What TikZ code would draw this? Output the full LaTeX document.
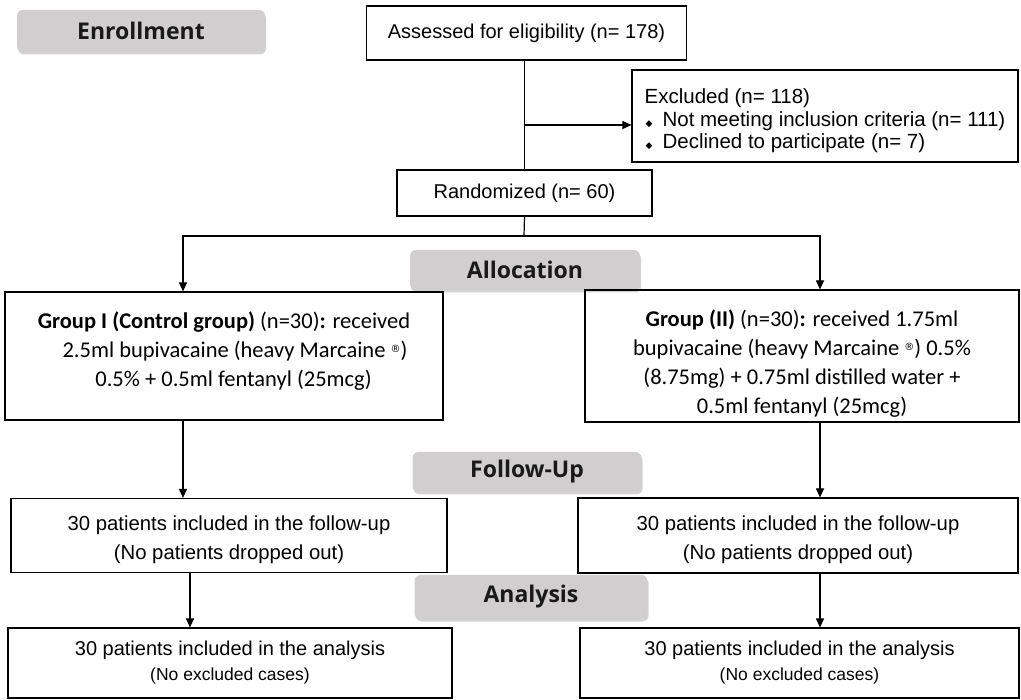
\documentclass[tikz,border=0pt]{standalone}
\usepackage{fontspec}
\setmainfont{Liberation Sans}
\newfontfamily\carl{Carlito}
\newfontfamily\phasefont{Open Sans}
\newfontfamily\djv{DejaVu Sans}
\usetikzlibrary{arrows.meta,shadows}
\definecolor{phasegray}{RGB}{208,206,207}
\newcommand{\bul}{\hspace{1pt}{\djv\fontsize{9}{9}\selectfont ◆}\hspace{10pt}}
\newcommand{\regmark}{\raisebox{5pt}{\djv\fontsize{10}{10}\selectfont ®}}
\begin{document}
\begin{tikzpicture}[x=1pt,y=-1pt,
  box/.style={draw, line width=1.2pt, inner sep=0pt, align=center, font=\fontsize{20}{29}\selectfont},
  gbox/.style={draw, line width=1.2pt, inner sep=0pt, align=center, font=\carl\fontsize{22.5}{29}\selectfont},
  phase/.style={fill=phasegray, rounded corners=6pt, inner sep=0pt,
    drop shadow={shadow xshift=1pt, shadow yshift=-2.5pt, opacity=0.35},
    font=\phasefont\bfseries\fontsize{23}{26}\selectfont, text=black!90},
  arr/.style={-{Triangle[width=8pt,length=9pt]}, line width=1.2pt},
  ln/.style={line width=1.2pt}]
\useasboundingbox (0,0) rectangle (1021,700);

% phase labels
\node[phase, minimum width=248pt, minimum height=42pt] (enr) at (141,31) {Enrollment};
\node[phase, minimum width=230pt, minimum height=40pt] (alloc) at (525,270) {Allocation};
\node[phase, minimum width=229pt, minimum height=40pt] (fup) at (527,472) {Follow-Up};
\node[phase, minimum width=233pt, minimum height=44pt] (ana) at (531,597) {Analysis};

% boxes
\node[box, minimum width=320pt, minimum height=54pt] (ass) at (526.5,33) {Assessed for eligibility (n= 178)};
\node[box, minimum width=386pt, minimum height=92pt, align=left, font=\fontsize{20.5}{22.5}\selectfont] (exc) at (825,116)
  {\rule{0pt}{0pt}\\[2pt]Excluded (n= 118)\\\bul Not meeting inclusion criteria (n= 111)\\\bul Declined to participate (n= 7)};
\node[box, minimum width=255pt, minimum height=46pt] (rand) at (524.5,193) {Randomized (n= 60)};

\node[gbox, minimum width=438pt, minimum height=128pt] (g1) at (224,356)
  {\rule{0pt}{0pt}\\[3pt]\textbf{Group I (Control group)} (n=30)\textbf{:} received\\
   \hspace{22pt}2.5ml bupivacaine (heavy Marcaine \regmark)\\
   \hspace{19pt}0.5\% + 0.5ml fentanyl (25mcg)\\\mbox{}};
\node[gbox, minimum width=434pt, minimum height=132pt] (g2) at (802,356)
  {\rule{0pt}{0pt}\\[3pt]\textbf{Group (II)} (n=30)\textbf{:} received 1.75ml\\
   bupivacaine (heavy Marcaine \regmark) 0.5\%\\
   (8.75mg) + 0.75ml distilled water +\\
   0.5ml fentanyl (25mcg)};

\node[box, minimum width=436pt, minimum height=74pt, font=\fontsize{20.3}{29}\selectfont] (f1) at (229,535.5)
  {\rule{0pt}{0pt}\\[-5pt]30 patients included in the follow-up\\(No patients dropped out)};
\node[box, minimum width=440pt, minimum height=75pt, font=\fontsize{20.3}{29}\selectfont] (f2) at (798,535.5)
  {\rule{0pt}{0pt}\\[-5pt]30 patients included in the follow-up\\(No patients dropped out)};

\node[box, minimum width=444pt, minimum height=70pt, font=\fontsize{20}{25}\selectfont] (a1) at (230,663)
  {30 patients included in the analysis\\{\fontsize{17.5}{20}\selectfont (No excluded cases)}};
\node[box, minimum width=439pt, minimum height=70pt, font=\fontsize{20}{25}\selectfont] (a2) at (799.5,663)
  {30 patients included in the analysis\\{\fontsize{17.5}{20}\selectfont (No excluded cases)}};

% connectors
\coordinate (j) at (524,125);
\coordinate (split) at (524,236);
\coordinate (la) at (183,236);
\coordinate (ra) at (820,236);
\coordinate (la2) at (190,0);
\draw[ln] (rand.north |- ass.south) -- (rand.north);
\draw[arr] (j) -- (j -| exc.west);
\draw[ln] (rand.south) -- (split);
\draw[arr] (split) -- (la) -- (la |- g1.north);
\draw[arr] (split) -- (ra) -- (ra |- g2.north);
\draw[arr] (la |- g1.south) -- (la |- f1.north);
\draw[arr] (ra |- g2.south) -- (ra |- f2.north);
\draw[arr] (la2 |- f1.south) -- (la2 |- a1.north);
\draw[arr] (ra |- f2.south) -- (ra |- a2.north);
\end{tikzpicture}
\end{document}
